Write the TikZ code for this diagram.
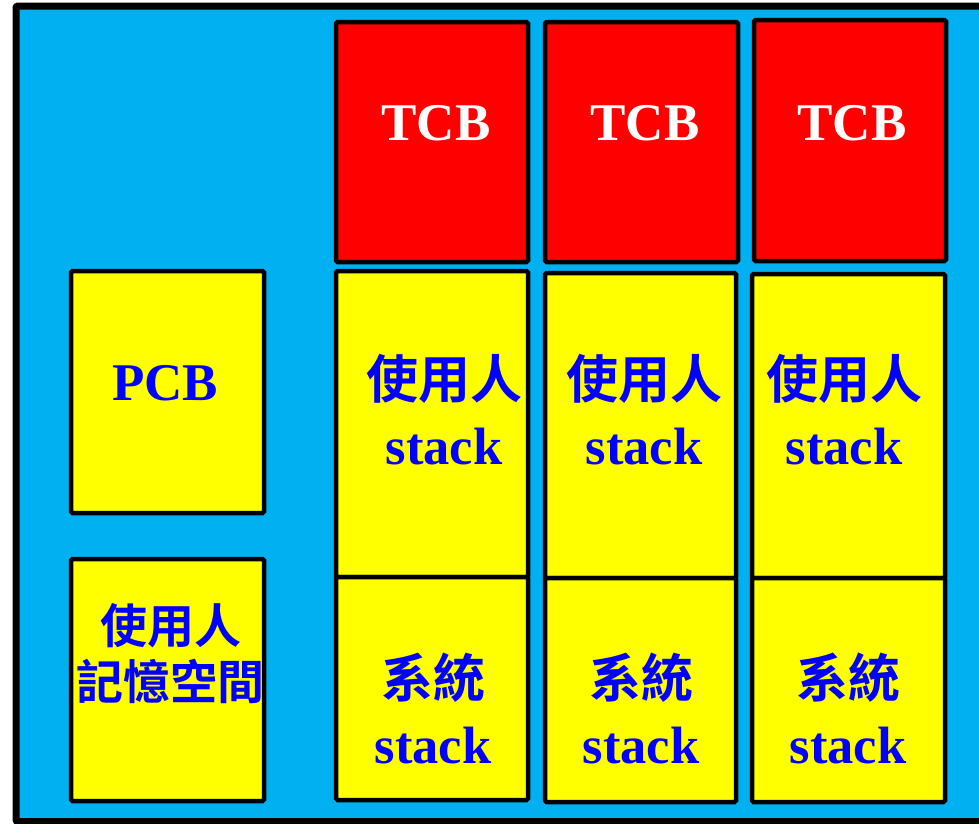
\documentclass[tikz,border=0pt]{standalone}
\usepackage{fontspec}
\setmainfont{Liberation Serif}
\newfontfamily\cjk{Noto Sans CJK TC}[BoldFont={* Bold}]
\definecolor{bgblue}{RGB}{0,176,240}
\definecolor{txtblue}{RGB}{0,0,255}
\definecolor{ylw}{RGB}{255,255,0}
\begin{document}
\begin{tikzpicture}[x=1pt,y=-1pt,
  box/.style={draw=black,line width=4.5pt,rounded corners=1.5pt},
  tcbbox/.style={box,fill=red},
  ybox/.style={box,fill=ylw},
  lat/.style={anchor=base,inner sep=0pt,font=\bfseries\fontsize{53}{53}\selectfont},
  latS/.style={anchor=base,inner sep=0pt,text=txtblue,font=\bfseries\fontsize{52.5}{52}\selectfont},
  cjkT/.style={anchor=base,inner sep=0pt,text=txtblue,font=\cjk\bfseries\fontsize{52}{52}\selectfont},
  cjkS/.style={anchor=base,inner sep=0pt,text=txtblue,font=\cjk\bfseries\fontsize{47}{47}\selectfont}]
\useasboundingbox (0,0) rectangle (979,823);
\clip (0,0) rectangle (979,823);
% outer frame
\draw[fill=bgblue,line width=7pt,rounded corners=2pt] (16,6) rectangle (995,821.5);
% TCB boxes
\draw[tcbbox] (336,22) rectangle (528,262);
\draw[tcbbox] (545,22) rectangle (738,262);
\draw[tcbbox] (754,20) rectangle (946,261);
% PCB and user memory
\draw[ybox] (71,271) rectangle (264,513);
\draw[ybox] (71,559) rectangle (264,801);
% user stacks
\draw[ybox] (336,271) rectangle (528,577);
\draw[ybox] (545,273) rectangle (736,578);
\draw[ybox] (752,274) rectangle (945,578);
% system stacks
\draw[ybox] (336,577) rectangle (528,800);
\draw[ybox] (545,578) rectangle (736,802);
\draw[ybox] (752,578) rectangle (945,802);
% texts
\node[lat,text=white] (t1) at (436,140) {TCB};
\node[lat,text=white] (t2) at (645,140) {TCB};
\node[lat,text=white] (t3) at (852,140) {TCB};
\node[lat,text=txtblue] (pcb) at (165,400) {PCB};
\node[cjkS] (um1) at (171,643) {使用人};
\node[cjkS] (um2) at (170,699) {記憶空間};
\node[cjkT] (u1) at (444,398) {使用人};
\node[cjkT] (u2) at (644,398) {使用人};
\node[cjkT] (u3) at (844,398) {使用人};
\node[latS] (us1) at (444,464) {stack};
\node[latS] (us2) at (644,464) {stack};
\node[latS] (us3) at (844,464) {stack};
\node[cjkT] (s1) at (433,697) {系統};
\node[cjkT] (s2) at (641,697) {系統};
\node[cjkT] (s3) at (848,697) {系統};
\node[latS] (ss1) at (433,763) {stack};
\node[latS] (ss2) at (641,763) {stack};
\node[latS] (ss3) at (848,763) {stack};
\end{tikzpicture}
\end{document}
